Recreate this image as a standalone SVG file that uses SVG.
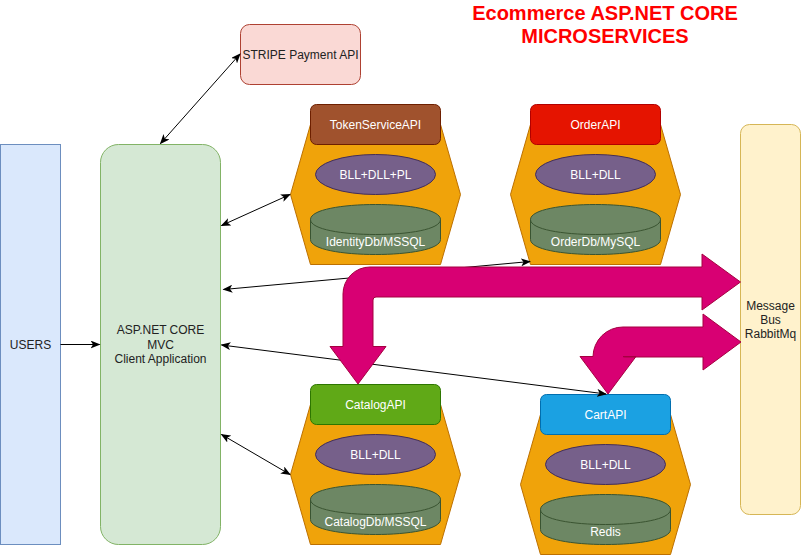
<svg xmlns="http://www.w3.org/2000/svg" width="801" height="555" viewBox="0 0 801 555">
<defs>
<style>
text{font-family:"Liberation Sans",Arial,Helvetica,sans-serif;font-size:12px;text-anchor:middle}
.dark{fill:#222}
.white{fill:#fff}
.title{font-size:20px;font-weight:bold;fill:#ff0000}
.hex{fill:#f0a30a;stroke:#BD7000;stroke-width:1}
.ell{fill:#76608a;stroke:#432D57;stroke-width:1}
.cyl{fill:#6d8764;stroke:#3A5431;stroke-width:1}
.cylrim{fill:none;stroke:#3A5431;stroke-width:1}
.conn{fill:none;stroke:#000;stroke-width:1}
.flex{fill:#d80073;stroke:#A50040;stroke-width:1}
</style>
<marker id="ah" viewBox="0 0 10 8" refX="9" refY="4" markerWidth="10" markerHeight="8" markerUnits="userSpaceOnUse" orient="auto-start-reverse">
<path d="M0,0 L10,4 L0,8 L2.5,4 Z" fill="#000"/>
</marker>
</defs>
<rect width="801" height="555" fill="#fff"/>

<g id="title">
<text class="title" x="605" y="20">Ecommerce ASP.NET CORE</text>
<text class="title" x="605" y="43.4">MICROSERVICES</text>
</g>

<g id="users">
<rect x="0.5" y="144.5" width="60" height="400" fill="#dae8fc" stroke="#6c8ebf"/>
<text class="dark" x="30.5" y="348.5">USERS</text>
</g>

<g id="mvc">
<rect x="100.5" y="144.5" width="120" height="400" rx="18" fill="#d5e8d4" stroke="#82b366"/>
<text class="dark" x="160.5" y="334">ASP.NET CORE</text>
<text class="dark" x="160.5" y="348.5">MVC</text>
<text class="dark" x="160.5" y="363">Client Application</text>
</g>

<g id="stripe">
<rect x="240.5" y="24.5" width="120" height="60" rx="9" fill="#fad9d5" stroke="#ae4132"/>
<text class="dark" x="300.5" y="58.5">STRIPE Payment API</text>
</g>

<g id="tokenservice">
<polygon class="hex" points="290.5,194.5 310.5,124.5 440.5,124.5 460.5,194.5 440.5,264.5 310.5,264.5"/>
<rect x="310.5" y="104.5" width="130" height="40" rx="6" fill="#a0522d" stroke="#6D1F00"/>
<text class="white" x="375.5" y="128.5">TokenServiceAPI</text>
<ellipse class="ell" cx="375.5" cy="174.5" rx="60" ry="20"/>
<text class="white" x="375.5" y="178.5">BLL+DLL+PL</text>
<path class="cyl" d="M310.5,219.5 C310.5,199.5 440.5,199.5 440.5,219.5 L440.5,239.5 C440.5,259.5 310.5,259.5 310.5,239.5 Z"/>
<path class="cylrim" d="M310.5,219.5 C310.5,239.5 440.5,239.5 440.5,219.5"/>
<text class="white" x="375.5" y="246">IdentityDb/MSSQL</text>
</g>

<g id="orderapi">
<polygon class="hex" points="510.5,194.5 530.5,124.5 660.5,124.5 680.5,194.5 660.5,264.5 530.5,264.5"/>
<rect x="530.5" y="104.5" width="130" height="40" rx="6" fill="#e51400" stroke="#B20000"/>
<text class="white" x="595.5" y="128.5">OrderAPI</text>
<ellipse class="ell" cx="595.5" cy="174.5" rx="60" ry="20"/>
<text class="white" x="595.5" y="178.5">BLL+DLL</text>
<path class="cyl" d="M530.5,219.5 C530.5,199.5 660.5,199.5 660.5,219.5 L660.5,239.5 C660.5,259.5 530.5,259.5 530.5,239.5 Z"/>
<path class="cylrim" d="M530.5,219.5 C530.5,239.5 660.5,239.5 660.5,219.5"/>
<text class="white" x="595.5" y="246">OrderDb/MySQL</text>
</g>

<g id="catalogapi">
<polygon class="hex" points="290.5,474.5 310.5,404.5 440.5,404.5 460.5,474.5 440.5,544.5 310.5,544.5"/>
<rect x="310.5" y="384.5" width="130" height="40" rx="6" fill="#60a917" stroke="#2D7600"/>
<text class="white" x="375.5" y="408.5">CatalogAPI</text>
<ellipse class="ell" cx="375.5" cy="454.5" rx="60" ry="20"/>
<text class="white" x="375.5" y="458.5">BLL+DLL</text>
<path class="cyl" d="M310.5,499.5 C310.5,479.5 440.5,479.5 440.5,499.5 L440.5,519.5 C440.5,539.5 310.5,539.5 310.5,519.5 Z"/>
<path class="cylrim" d="M310.5,499.5 C310.5,519.5 440.5,519.5 440.5,499.5"/>
<text class="white" x="375.5" y="526">CatalogDb/MSSQL</text>
</g>

<g id="cartapi">
<polygon class="hex" points="520.5,484.5 540.5,414.5 670.5,414.5 690.5,484.5 670.5,554.5 540.5,554.5"/>
<rect x="540.5" y="394.5" width="130" height="40" rx="6" fill="#1ba1e2" stroke="#006EAF"/>
<text class="white" x="605.5" y="418.5">CartAPI</text>
<ellipse class="ell" cx="605.5" cy="464.5" rx="60" ry="20"/>
<text class="white" x="605.5" y="468.5">BLL+DLL</text>
<path class="cyl" d="M540.5,509.5 C540.5,489.5 670.5,489.5 670.5,509.5 L670.5,529.5 C670.5,549.5 540.5,549.5 540.5,529.5 Z"/>
<path class="cylrim" d="M540.5,509.5 C540.5,529.5 670.5,529.5 670.5,509.5"/>
<text class="white" x="605.5" y="536">Redis</text>
</g>

<g id="messagebus">
<rect x="740.5" y="124.5" width="60" height="390" rx="9" fill="#fff2cc" stroke="#d6b656"/>
<text class="dark" x="770.5" y="309.5">Message</text>
<text class="dark" x="770.5" y="323.5">Bus</text>
<text class="dark" x="770.5" y="337.5">RabbitMq</text>
</g>

<g id="connectors">
<path class="conn" d="M60.5,344.5 L99.5,344.5" marker-end="url(#ah)"/>
<path class="conn" d="M160.5,143.5 L240,54" marker-start="url(#ah)" marker-end="url(#ah)"/>
<path class="conn" d="M221.5,225.5 L290,194.5" marker-start="url(#ah)" marker-end="url(#ah)"/>
<path class="conn" d="M223.5,289.5 L530,261.5" marker-start="url(#ah)" marker-end="url(#ah)"/>
<path class="conn" d="M221.5,345 L606,394" marker-start="url(#ah)" marker-end="url(#ah)"/>
<path class="conn" d="M221.5,434.5 L290,474.5" marker-start="url(#ah)" marker-end="url(#ah)"/>
<path class="flex" d="M343,346.5 L343,294 A27,27 0 0 1 370,267 L702,267 L702,254 L740.5,282 L702,310 L702,297 L376,297 Q373,297 373,300 L373,346.5 L386,346.5 L358,384 L330,346.5 Z"/>
<path class="flex" d="M593,356.5 A30,30 0 0 1 623,327 L703,327 L703,314 L741,342 L703,370 L703,357 L626,357 Q623,357 623,356.5 L636,356.5 L608,394 L580,356.5 Z"/>
</g>
</svg>
